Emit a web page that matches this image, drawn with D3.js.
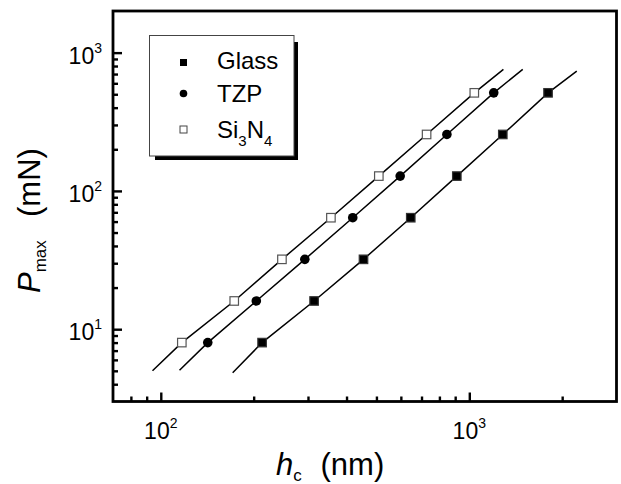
<!DOCTYPE html>
<html>
<head>
<meta charset="utf-8">
<script src="https://cdn.jsdelivr.net/npm/d3@7"></script>
<style>
  body { margin: 0; background: #fff; }
  text { font-family: "Liberation Sans", Arial, Helvetica, sans-serif; fill: #000; }
</style>
</head>
<body>
<svg id="chart" width="621" height="484"></svg>
<script>
// Maximum load vs contact depth, log-log, three materials

var loads = [8, 16, 32, 64, 128, 256, 512];
var glassDepth = [213, 314, 454, 646, 911, 1284, 1800];
var tzpDepth = [142, 204, 293, 419, 597, 846, 1200];
var si3n4Depth = [117, 173, 247, 356, 509, 727, 1038];

// fitted lines run a bit beyond the data at both ends: [depth, load]
var glassFitEnds = [[171, 4.85], [2230, 736]];
var tzpFitEnds = [[115, 5.05], [1490, 757]];
var si3n4FitEnds = [[94, 5.0], [1290, 757]];

var xDomain = [70, 3000];
var yDomain = [3, 2000];
var xMajor = [100, 1000];
var yMajor = [10, 100, 1000];
var xMajorExp = ["2", "3"];
var yMajorExp = ["1", "2", "3"];

var svg = d3.select("#chart");

// NB: "top" is taken by window.top, so plot edges get their own names
var plotLeft = 113, plotRight = 616.5, plotTop = 11, plotBottom = 401.5;

var x = d3.scaleLog().domain(xDomain).range([plotLeft, plotRight]);
var y = d3.scaleLog().domain(yDomain).range([plotBottom, plotTop]);

function minorOf(scale, majors) {
  /* all log ticks that are not decades and not on the frame */
  var dom = scale.domain();
  return scale.ticks().filter(function(t) {
    return majors.indexOf(t) < 0 && t > dom[0] * 1.001 && t < dom[1] * 0.999;
  });
}

/* ticks point inwards */
svg.append("g")
  .attr("transform", "translate(0," + plotBottom + ")")
  .call(d3.axisBottom(x).tickValues(minorOf(x, xMajor)).tickSize(-5).tickFormat(""))
  .call(function(g) { g.select(".domain").remove(); });
svg.append("g")
  .attr("transform", "translate(0," + plotBottom + ")")
  .call(d3.axisBottom(x).tickValues(xMajor).tickSize(-9).tickFormat(""))
  .call(function(g) { g.select(".domain").remove(); });
svg.append("g")
  .attr("transform", "translate(" + plotLeft + ",0)")
  .call(d3.axisLeft(y).tickValues(minorOf(y, yMajor)).tickSize(-5).tickFormat(""))
  .call(function(g) { g.select(".domain").remove(); });
svg.append("g")
  .attr("transform", "translate(" + plotLeft + ",0)")
  .call(d3.axisLeft(y).tickValues(yMajor).tickSize(-9).tickFormat(""))
  .call(function(g) { g.select(".domain").remove(); });

svg.selectAll(".tick line").attr("stroke", "#000").attr("stroke-width", 2.4);

svg.append("rect")
  .attr("x", plotLeft).attr("y", plotTop)
  .attr("width", plotRight - plotLeft).attr("height", plotBottom - plotTop)
  .attr("fill", "none").attr("stroke", "#000").attr("stroke-width", 2.8);

/* tick labels, 10 with a superscript */
var xl = svg.selectAll(".xlab").data(xMajor).enter().append("text")
  .attr("class", "xlab")
  .attr("x", function(d) { return x(d); })
  .attr("y", 439)
  .attr("text-anchor", "middle")
  .style("font-size", "23px");
xl.append("tspan").text("10");
xl.append("tspan").style("font-size", "14px").attr("dy", -11)
  .text(function(d, i) { return xMajorExp[i]; });

var yl = svg.selectAll(".ylab").data(yMajor).enter().append("text")
  .attr("class", "ylab")
  .attr("x", 102)
  .attr("y", function(d) { return y(d) + 11; })
  .attr("text-anchor", "end")
  .style("font-size", "23px");
yl.append("tspan").text("10");
yl.append("tspan").style("font-size", "14px").attr("dy", -11)
  .text(function(d, i) { return yMajorExp[i]; });

/* axis titles */
var xt = svg.append("text").attr("x", 276).attr("y", 475).style("font-size", "31px");
xt.append("tspan").attr("font-style", "italic").text("h");
xt.append("tspan").style("font-size", "17px").attr("dy", 6).text("c");
svg.append("text").attr("x", 320.5).attr("y", 475).style("font-size", "31px").text("(nm)");

var yt = svg.append("text").attr("transform", "rotate(-90)")
  .attr("x", -293).attr("y", 40).style("font-size", "31px");
yt.append("tspan").attr("font-style", "italic").text("P");
yt.append("tspan").style("font-size", "17px").attr("dy", 6).text("max");
svg.append("text").attr("transform", "rotate(-90)")
  .attr("x", -217).attr("y", 40).style("font-size", "31px").text("(mN)");

/* fit lines through the measured points */
var line = d3.line()
  .x(function(d) { return x(d[0]); })
  .y(function(d) { return y(d[1]); });

function fitPath(depths, ends) {
  var pts = depths.map(function(h, i) { return [h, loads[i]]; });
  return [ends[0]].concat(pts, [ends[1]]);
}

[[glassDepth, glassFitEnds], [tzpDepth, tzpFitEnds], [si3n4Depth, si3n4FitEnds]].forEach(function(s) {
  svg.append("path")
    .datum(fitPath(s[0], s[1]))
    .attr("d", line)
    .attr("fill", "none")
    .attr("stroke", "#000")
    .attr("stroke-width", 1.5);
});

function squares(depths, fill, stroke, size) {
  svg.append("g").selectAll("rect").data(depths).enter().append("rect")
    .attr("x", function(d) { return x(d) - size / 2; })
    .attr("y", function(d, i) { return y(loads[i]) - size / 2; })
    .attr("width", size).attr("height", size)
    .attr("fill", fill).attr("stroke", stroke).attr("stroke-width", 1.2);
}

squares(glassDepth, "#000", "#333", 8.5);
squares(si3n4Depth, "#fff", "#555", 8.5);

svg.append("g").selectAll("circle").data(tzpDepth).enter().append("circle")
  .attr("cx", function(d) { return x(d); })
  .attr("cy", function(d, i) { return y(loads[i]); })
  .attr("r", 4.8)
  .attr("fill", "#000");

/* legend box with a drop shadow */
var lg = svg.append("g");
lg.append("rect").attr("x", 155).attr("y", 42).attr("width", 143).attr("height", 118).attr("fill", "#000");
lg.append("rect").attr("x", 149.5).attr("y", 35.5).attr("width", 144.5).attr("height", 120.5)
  .attr("fill", "#fff").attr("stroke", "#444").attr("stroke-width", 1);

lg.append("rect").attr("x", 180).attr("y", 59).attr("width", 7).attr("height", 7).attr("fill", "#000");
lg.append("circle").attr("cx", 183.5).attr("cy", 93.5).attr("r", 3.8).attr("fill", "#000");
lg.append("rect").attr("x", 180).attr("y", 126).attr("width", 7).attr("height", 7)
  .attr("fill", "#fff").attr("stroke", "#444").attr("stroke-width", 1);

lg.append("text").attr("x", 217).attr("y", 69).style("font-size", "24px").text("Glass");
lg.append("text").attr("x", 217).attr("y", 102).style("font-size", "24px").text("TZP");
var si = lg.append("text").attr("x", 217).attr("y", 137.5).style("font-size", "24px");
si.append("tspan").text("Si");
si.append("tspan").style("font-size", "15px").attr("dy", 8).text("3");
si.append("tspan").attr("dy", -8).text("N");
si.append("tspan").style("font-size", "15px").attr("dy", 8).text("4");
</script>
</body>
</html>
